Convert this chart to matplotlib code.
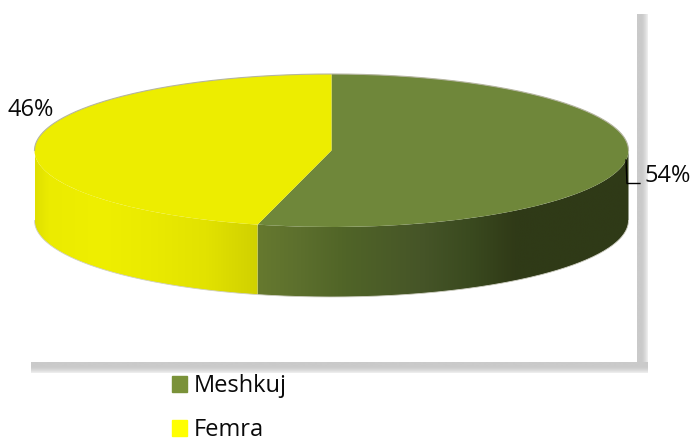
import numpy as np
import matplotlib
matplotlib.use('Agg')
import matplotlib.pyplot as plt
from matplotlib.colors import LinearSegmentedColormap
from matplotlib.patches import Patch, Polygon

categories = ['Meshkuj', 'Femra']
shares = [54, 46]
top_colors = ['#6F873A', '#EDED00']
legend_colors = ['#7A9239', '#FFFF00']

# picture geometry in pixels
W, H = 691, 438
CX, CY, RX, RY, DEPTH = 331.5, 150.5, 297.0, 76.5, 70.0
FONT = 'Open Sans'
FS = 17


def px(x):
    return (x - CX) / RX


def py(y):
    return (CY - y) / RY


def wall(ax, a0, a1, stops):
    # side of the slice between two angles, shaded left to right
    t = np.radians(np.linspace(a0, a1, 200))
    x = np.cos(t)
    y = np.sin(t)
    d = DEPTH / RY
    pts = np.r_[np.c_[x, y], np.c_[x[::-1], y[::-1] - d]]
    x0, x1 = x.min(), x.max()
    xs = (np.array([s[0] for s in stops]) - CX) / RX
    pos = np.clip((xs - x0) / (x1 - x0), 0, 1)
    pos[0], pos[-1] = 0, 1
    cmap = LinearSegmentedColormap.from_list('w', list(zip(pos, [s[1] for s in stops])))
    grad = np.linspace(0, 1, 512)[None, :]
    im = ax.imshow(grad, cmap=cmap, extent=[x0, x1, -1 - d, 1], aspect='auto', zorder=2, interpolation='bilinear')
    im.set_clip_path(Polygon(pts, transform=ax.transData))


fig = plt.figure(figsize=(W / 100, H / 100), dpi=100)
ax = fig.add_axes([0, 0, 1, 1])

wedges, _ = ax.pie(shares, colors=top_colors, startangle=90, counterclock=False,
                   wedgeprops={'linewidth': 0, 'zorder': 3})

# boundary between the slices on the front of the disc
split = 90 - 360 * shares[0] / sum(shares) + 360
wall(ax, 180, split, [(35, '#E0E000'), (48, '#EBEB00'), (100, '#EFEF00'), (150, '#EAEA00'),
                      (205, '#E2E200'), (258, '#D0D000')])
wall(ax, split, 360, [(258, '#66792F'), (300, '#5C6F2D'), (345, '#506427'), (420, '#465528'),
                      (470, '#3A4A1F'), (515, '#303A17'), (628, '#2F3A17')])

# close the seam where the two side pieces meet
sx, sy = np.cos(np.radians(split)), np.sin(np.radians(split))
ax.plot([sx, sx], [sy, sy - (DEPTH - 0.8) / RY], color='#66792F', lw=1, zorder=2.5, solid_capstyle='butt')

# thin grey rim
t = np.radians(np.linspace(0, 180, 300))
ax.plot(np.cos(t), np.sin(t), color='#B5B5A0', lw=0.8, zorder=4)
t = np.radians(np.linspace(180, 360, 300))
ax.plot(np.cos(t), np.sin(t) - DEPTH / RY, color='#D0D0C4', lw=0.6, zorder=4)

# panel shadow, fades on the outer side
fade = 0.79 + 0.15 * np.clip((np.linspace(0, 1, 64) - 0.4) / 0.6, 0, 1) ** 1.5
ax.imshow(fade[None, :], cmap='gray', vmin=0, vmax=1, extent=[px(637), px(648), py(373), py(14)],
          aspect='auto', zorder=1, interpolation='bilinear')
ax.imshow(fade[:, None], cmap='gray', vmin=0, vmax=1, extent=[px(31), px(648), py(373), py(362)],
          origin='upper', aspect='auto', zorder=1, interpolation='bilinear')

# leader line for the 54% label
ax.plot([px(626), px(627), px(640)], [py(160), py(183.5), py(183.5)], color='black', lw=1, zorder=5)

ax.text(px(8), py(110.5), f'{shares[1]}%', fontsize=FS, family=FONT, va='center', ha='left', color='#0A0A0A')
ax.text(px(645), py(176.5), f'{shares[0]}%', fontsize=FS, family=FONT, va='center', ha='left', color='#0A0A0A')

handles = [Patch(color=c, label=n) for c, n in zip(legend_colors, categories)]
ax.legend(handles=handles, loc='upper left', bbox_to_anchor=(172 / W, 1 - 374.5 / H), frameon=False,
          borderpad=0, borderaxespad=0, handlelength=0.635, handleheight=0.635, handletextpad=0.3,
          labelspacing=0.845, prop={'family': FONT, 'size': FS}, labelcolor='#0A0A0A')

ax.set_aspect('auto')
ax.set_xlim(px(0), px(W))
ax.set_ylim(py(H), py(0))
ax.axis('off')
fig.savefig('out.png', dpi=100)
